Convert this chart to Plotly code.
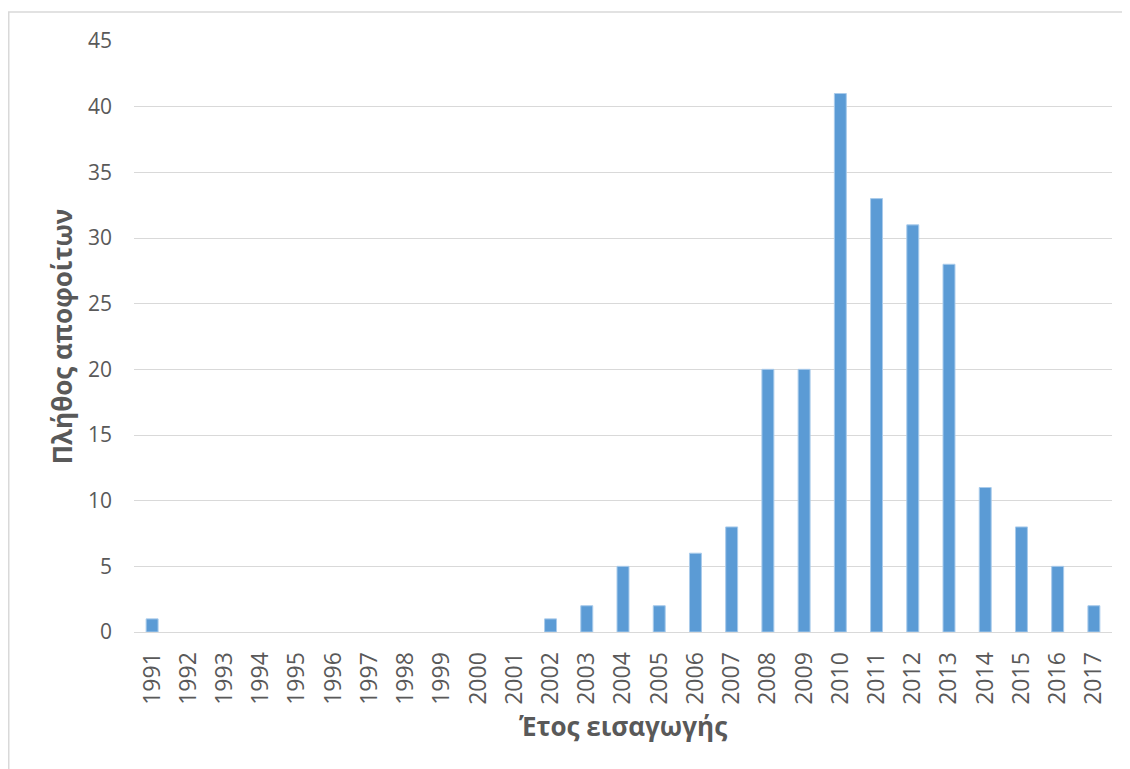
import plotly.graph_objects as go

years = [str(y) for y in range(1991, 2018)]
counts = [1, 0, 0, 0, 0, 0, 0, 0, 0, 0, 0, 1, 2, 5, 2, 6, 8, 20, 20, 41, 33, 31, 28, 11, 8, 5, 2]
y_ticks = [0, 5, 10, 15, 20, 25, 30, 35, 40, 45]
x_title = "Έτος εισαγωγής"
y_title = "Πλήθος αποφοίτων"

# page has an 8px body margin, so the figure is sized to fit inside the window
W, H = 1122, 761
ml, mr, mt, mb = 126, 18, 33, 137
pw, ph = W - ml - mr, H - mt - mb

fig = go.Figure(go.Bar(
    x=years, y=counts,
    marker=dict(color="#5B9BD5",
                line=dict(color="#A9CBEB", width=[1 if c > 0 else 0 for c in counts])),
    width=0.33,
))

font = "Open Sans"
fig.update_layout(
    width=W, height=H,
    margin=dict(l=ml, r=mr, t=mt, b=mb),
    paper_bgcolor="white", plot_bgcolor="white",
    showlegend=False,
    font=dict(family=font, color="#595959"),
    xaxis=dict(
        type="category", tickangle=-90, ticks="", showgrid=False,
        tickfont=dict(size=23, color="#595959"),
        ticklabelstandoff=10,
        showline=True, linecolor="#D9D9D9", linewidth=1,
        automargin=False,
        title=dict(text="<b>" + x_title + "</b>", font=dict(size=26, color="#595959"), standoff=13),
    ),
    yaxis=dict(
        range=[0, 45], tickvals=y_ticks, ticks="",
        showgrid=True, gridcolor="#D9D9D9", gridwidth=1,
        zeroline=False, showline=False,
        tickfont=dict(size=21, color="#595959"),
        ticklabelstandoff=21,
        automargin=False,
        title=dict(text="<b>" + y_title + "</b>", font=dict(size=26, color="#595959"), standoff=7),
    ),
    shapes=[dict(
        type="rect", xref="paper", yref="paper",
        x0=(0.75 - ml) / pw, x1=(W + 20 - ml) / pw,
        y0=-(mb + 20) / ph, y1=(H - 4 - mb) / ph,
        line=dict(color="#D9D9D9", width=1.5), layer="below",
    )],
)

fig.write_html("out.html")
